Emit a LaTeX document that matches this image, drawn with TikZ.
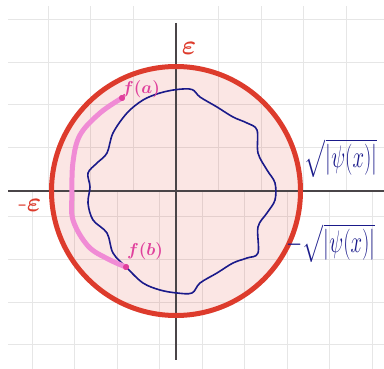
\documentclass[tikz,border=0pt]{standalone}
\usepackage{amsmath,graphicx}
\usetikzlibrary{positioning}
\definecolor{ring}{HTML}{DD3B2C}
\definecolor{ink}{HTML}{1A1A8A}
\definecolor{orchid}{HTML}{F08BD5}
\definecolor{magent}{HTML}{E0409C}
\definecolor{axisgray}{HTML}{4A4548}
\definecolor{gridgray}{HTML}{E6E6E6}
\tikzset{gridline/.style={gridgray,line width=1pt},axisline/.style={axisgray,line width=1.4pt},inkline/.style={ink,line width=1.6pt,line join=round},pathline/.style={orchid,line width=5pt,line cap=round,line join=round},dot/.style={circle,fill=magent,inner sep=0pt,minimum size=6pt},eps/.style={text=ring,inner sep=1pt,font=\Huge\boldmath},flab/.style={text=magent,inner sep=1pt,font=\LARGE\boldmath},rootlab/.style={text=ink,inner sep=1pt,font=\huge}}
\begin{document}
\begin{tikzpicture}[x=1pt,y=-1pt]
\useasboundingbox (0,0) rectangle (384,369);
% grid, upper and lower sheets
\foreach \gx in {48,90.5,133,218.5,261,303.5,346} \draw[gridline] (\gx,6) -- (\gx,191);
\foreach \gy in {20,62.5,105,148} \draw[gridline] (8,\gy) -- (384,\gy);
\foreach \gx in {32,74.5,117,159.5,202,244.5,287,329.5,372} \draw[gridline] (\gx,191) -- (\gx,369);
\foreach \gy in {217,260,302.5,345} \draw[gridline] (8,\gy) -- (384,\gy);
% disc
\coordinate (o) at (176,191);
\fill[ring,opacity=0.13] (o) circle[radius=124.5];
% axes
\coordinate (xl) at (8,191);
\coordinate (xr) at (384,191);
\coordinate (yt) at (176,23);
\coordinate (yb) at (176,360);
\draw[axisline] (xl) -- (xr);
\draw[axisline] (yt) -- (yb);
\draw[ring,line width=5pt] (o) circle[radius=124.5];
% level curve
\draw[inkline] plot[smooth cycle,tension=0.55] coordinates {(177,89.5) (192,89.5) (200,97) (217,107) (233,117) (247,123) (257,130) (258,153) (267,170) (275,183) (275,200) (267,213) (258,227) (258,253) (247,258) (233,263) (217,273) (200,283) (192,293) (177,293) (160,290) (143,283) (127,268) (113,253) (107,233) (93,220) (88,203) (90,187) (88,173) (97,163) (107,153) (113,133) (127,113) (143,100) (160,93)};
% path from f(a) to f(b)
\node[dot] (fa) at (122,98) {};
\node[dot] (fb) at (126,267) {};
\draw[pathline] plot[smooth,tension=0.6] coordinates {(122,98) (100,113) (80,135) (73,162) (72,193) (73,220) (88,246) (108,259) (126,267)};
\node[dot] at (fa) {};
\node[dot] at (fb) {};
% labels
\node[flab] (la) at (141,89) {$f(a)$};
\node[flab] (lb) at (145,251) {$f(b)$};
\node[eps] (ep) at (189,48) {\scalebox{1.1}{$\varepsilon$}};
\node[eps] (em) at (30,205) {\scalebox{1.1}{-$\varepsilon$}};
\node[rootlab] (rp) at (341,158) {\scalebox{1}[1.5]{$\sqrt{|\psi(x)|}$}};
\node[rootlab] (rm) at (331,243) {\scalebox{1}[1.5]{$-\sqrt{|\psi(x)|}$}};
\end{tikzpicture}
\end{document}
